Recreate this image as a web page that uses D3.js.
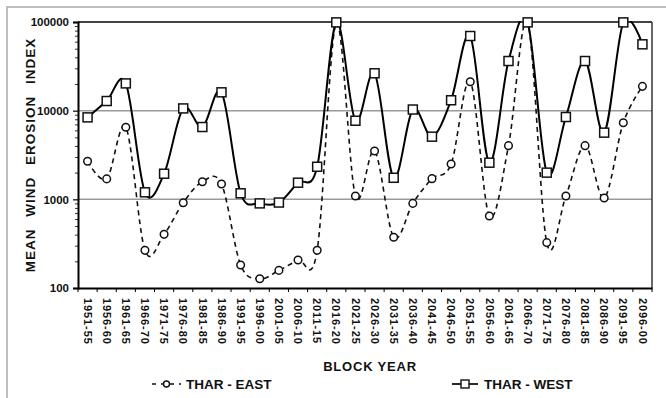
<!DOCTYPE html>
<html><head><meta charset="utf-8">
<script src="https://cdn.jsdelivr.net/npm/d3@7"></script>
<style>
body{margin:0;background:#fff;}
svg{display:block;font-family:Arial,"Liberation Sans",sans-serif;}
</style></head>
<body><svg id="c" width="666" height="398"></svg>
<script>
const categories = ["1951-55","1956-60","1961-65","1966-70","1971-75","1976-80","1981-85","1986-90","1991-95","1996-00",
"2001-05","2006-10","2011-15","2016-20","2021-25","2026-30","2031-35","2036-40","2041-45","2046-50",
"2051-55","2056-60","2061-65","2066-70","2071-75","2076-80","2081-85","2086-90","2091-95","2096-00"];
const tharEast = [2690,1700,6490,266,403,916,1580,1490,182,127,
158,207,266,98000,1090,3510,373,900,1710,2500,
21200,649,4030,98000,325,1090,4030,1035,7310,18800];
const tharWest = [8400,12850,20300,1200,1945,10600,6540,16100,1170,900,
920,1540,2330,99000,7700,26400,1750,10300,5090,13100,
69500,2590,36300,99000,2000,8480,36300,5650,99000,56000];
const yTicks = [100,1000,10000,100000];
const seriesNames = ["THAR - EAST","THAR - WEST"];

const svg = d3.select("#c");
const L=78,R=652,T=22,B=288;

// outer frame
svg.append("rect").attr("x",7).attr("y",7).attr("width",680).attr("height",420)
  .attr("fill","none").attr("stroke","#bdbdbd").attr("stroke-width",2);

const x = d3.scaleBand().domain(categories).range([L,R]).padding(0);
const y = d3.scaleLog().domain([100,100000]).range([B,T]);
const cx = d => x(d)+x.bandwidth()/2;

// gridlines
svg.append("g").selectAll("line").data([1000,10000]).join("line")
  .attr("x1",L).attr("x2",R).attr("y1",d=>y(d)).attr("y2",d=>y(d))
  .attr("stroke","#9a9a9a").attr("stroke-width",1.5);
// frame
svg.append("line").attr("x1",L).attr("x2",R).attr("y1",y(100000)).attr("y2",y(100000)).attr("stroke","#444").attr("stroke-width",1.8);
svg.append("line").attr("x1",R).attr("x2",R).attr("y1",T).attr("y2",B).attr("stroke","#333").attr("stroke-width",1.5);

// y minor ticks
const minor=[];
[100,1000,10000].forEach(b=>{for(let k=2;k<=9;k++)minor.push(b*k);});
svg.append("g").attr("transform",`translate(${L},0)`)
  .call(d3.axisLeft(y).tickValues(minor).tickSize(3).tickFormat(""))
  .call(g=>g.select(".domain").remove())
  .selectAll("line").attr("stroke","#333");
const ya = svg.append("g").attr("transform",`translate(${L},0)`)
  .call(d3.axisLeft(y).tickValues(yTicks).tickSize(5).tickPadding(4).tickFormat(d3.format("d")));
ya.select(".domain").attr("stroke","#000").attr("stroke-width",2);
ya.selectAll("line").attr("stroke","#000").attr("stroke-width",1.2);
ya.selectAll("text").attr("font-size",11.5).attr("font-weight","bold").attr("fill","#111")
  .attr("font-family",'Arial,"Liberation Sans",sans-serif');

// x axis
const xa = svg.append("g").attr("transform",`translate(0,${B})`)
  .call(d3.axisBottom(x).tickSize(0).tickPadding(0));
xa.select(".domain").attr("stroke","#000").attr("stroke-width",2);
xa.selectAll("text").attr("font-size",11).attr("font-weight","bold").attr("fill","#111")
  .attr("font-family",'Arial,"Liberation Sans",sans-serif')
  .attr("letter-spacing","0.9px")
  .attr("text-anchor","start").attr("dy","0.35em")
  .attr("transform","translate(0,10) rotate(90)");
// boundary ticks
svg.append("g").selectAll("line").data(categories).join("line")
  .attr("x1",d=>x(d)+x.bandwidth()).attr("x2",d=>x(d)+x.bandwidth())
  .attr("y1",B).attr("y2",B+4).attr("stroke","#000").attr("stroke-width",1);
svg.append("line").attr("x1",L).attr("x2",L).attr("y1",B).attr("y2",B+4).attr("stroke","#000");

// clip
svg.append("clipPath").attr("id","clip").append("rect").attr("x",L).attr("y",T-1).attr("width",R-L).attr("height",B-T+1);

const line = d3.line().x((d,i)=>cx(categories[i])).y(d=>y(d)).curve(d3.curveCardinal.tension(0));

svg.append("path").datum(tharEast).attr("d",line).attr("clip-path","url(#clip)")
  .attr("fill","none").attr("stroke","#111").attr("stroke-width",1.6).attr("stroke-dasharray","5,4");
svg.append("path").datum(tharWest).attr("d",line).attr("clip-path","url(#clip)")
  .attr("fill","none").attr("stroke","#000").attr("stroke-width",2);

svg.append("g").selectAll("circle").data(tharEast).join("circle")
  .attr("cx",(d,i)=>cx(categories[i])).attr("cy",d=>y(d)).attr("r",3.8)
  .attr("fill","#fff").attr("stroke","#111").attr("stroke-width",1.5);
svg.append("g").selectAll("rect").data(tharWest).join("rect")
  .attr("x",(d,i)=>cx(categories[i])-4.5).attr("y",d=>y(d)-4.5).attr("width",9).attr("height",9)
  .attr("fill","#fff").attr("stroke","#111").attr("stroke-width",1.5);

// axis titles
svg.append("text").attr("x",370).attr("y",371).attr("text-anchor","middle")
  .attr("font-size",13).attr("font-weight","bold").attr("letter-spacing","0.8px").attr("fill","#111").text("BLOCK YEAR");
svg.append("text").attr("transform","translate(35,155) rotate(-90)").attr("text-anchor","middle")
  .attr("font-size",13.5).attr("font-weight","bold").attr("letter-spacing","1px").attr("word-spacing","7px")
  .attr("fill","#111").text("MEAN WIND EROSION INDEX");

// legend
const lg = svg.append("g");
lg.append("line").attr("x1",152).attr("x2",181).attr("y1",384).attr("y2",384)
  .attr("stroke","#111").attr("stroke-width",1.6).attr("stroke-dasharray","4,5").attr("stroke-dashoffset",0);
lg.append("circle").attr("cx",166.5).attr("cy",384).attr("r",3).attr("fill","#fff").attr("stroke","#111").attr("stroke-width",1.4);
lg.append("text").attr("x",186).attr("y",389).attr("font-size",13.5).attr("font-weight","bold").attr("fill","#111").text(seriesNames[0]);
lg.append("line").attr("x1",452).attr("x2",478).attr("y1",384).attr("y2",384).attr("stroke","#111").attr("stroke-width",1.8);
lg.append("rect").attr("x",461).attr("y",380).attr("width",8).attr("height",8).attr("fill","#fff").attr("stroke","#111").attr("stroke-width",1.4);
lg.append("text").attr("x",484).attr("y",389).attr("font-size",13.5).attr("font-weight","bold").attr("fill","#111").text(seriesNames[1]);
</script></body></html>
